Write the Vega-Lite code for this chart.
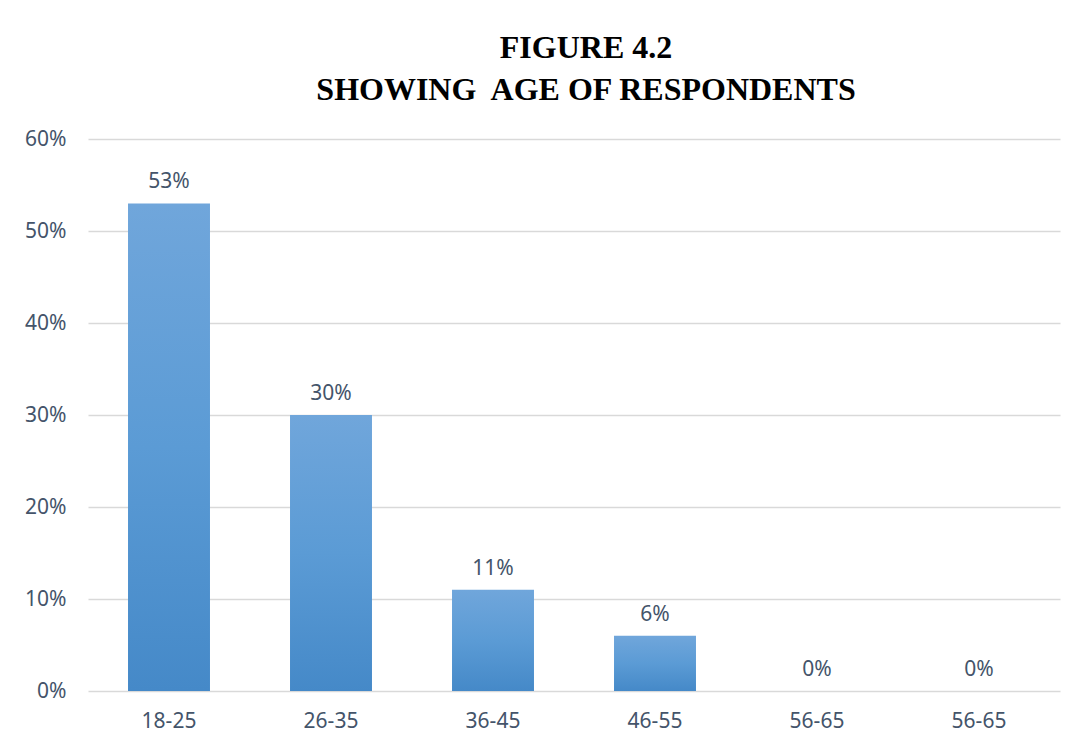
{
  "$schema": "https://vega.github.io/schema/vega-lite/v6.json",
  "width": 972,
  "height": 552,
  "autosize": {"type": "none"},
  "padding": {"left": 88, "top": 139, "right": 17, "bottom": 56},
  "background": "white",
  "config": {"view": {"stroke": null}},
  "title": {
    "text": ["FIGURE 4.2", "SHOWING\u00a0 AGE OF RESPONDENTS"],
    "font": "Liberation Serif",
    "fontSize": 32,
    "fontWeight": "bold",
    "color": "#000000",
    "anchor": "middle",
    "dx": 12,
    "offset": 21,
    "lineHeight": 42
  },
  "data": {
    "values": [
      {"age": "18-25", "share": 0.53},
      {"age": "26-35", "share": 0.30},
      {"age": "36-45", "share": 0.11},
      {"age": "46-55", "share": 0.06},
      {"age": "56-65", "share": 0.0},
      {"age": "56-65 ", "share": 0.0}
    ]
  },
  "encoding": {
    "x": {
      "field": "age",
      "type": "nominal",
      "sort": null,
      "scale": {"paddingInner": 0.494, "paddingOuter": 0.247},
      "axis": {
        "title": null,
        "labelAngle": 0,
        "domain": false,
        "ticks": false,
        "labelPadding": 19,
        "labelFont": "Noto Sans",
        "labelFontSize": 21,
        "labelColor": "#44546A"
      }
    },
    "y": {
      "field": "share",
      "type": "quantitative",
      "scale": {"domain": [0, 0.6]},
      "axis": {
        "title": null,
        "format": ".0%",
        "values": [0, 0.1, 0.2, 0.3, 0.4, 0.5, 0.6],
        "domain": false,
        "ticks": false,
        "labelPadding": 22,
        "labelFont": "Noto Sans",
        "labelFontSize": 21,
        "labelColor": "#44546A",
        "gridColor": "#D9D9D9",
        "gridWidth": 1.3
      }
    }
  },
  "layer": [
    {
      "mark": {
        "type": "bar",
        "color": {
          "gradient": "linear",
          "x1": 0, "y1": 0, "x2": 0, "y2": 1,
          "stops": [
            {"offset": 0, "color": "#70A6DB"},
            {"offset": 0.5, "color": "#5B9BD5"},
            {"offset": 1, "color": "#4589C8"}
          ]
        }
      }
    },
    {
      "mark": {
        "type": "text",
        "baseline": "bottom",
        "dy": -11,
        "font": "Noto Sans",
        "fontSize": 21,
        "color": "#44546A"
      },
      "encoding": {
        "text": {"field": "share", "type": "quantitative", "format": ".0%"}
      }
    }
  ]
}
